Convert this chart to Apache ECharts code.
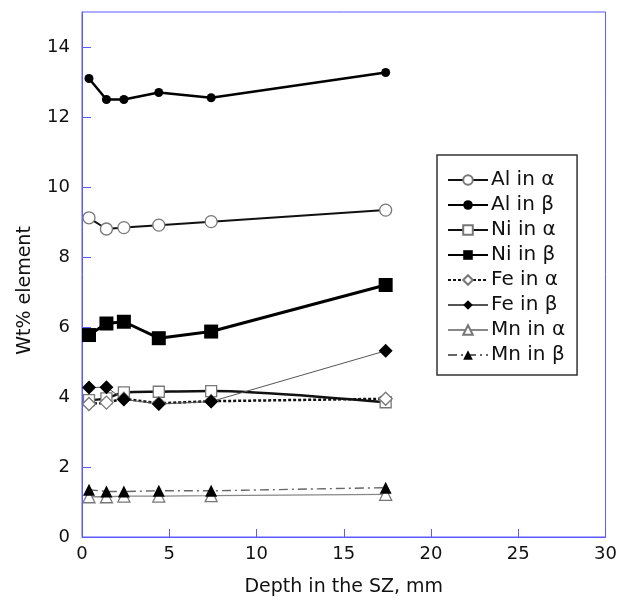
<!DOCTYPE html>
<html><head><meta charset="utf-8">
<script src="https://cdn.jsdelivr.net/npm/echarts@6/dist/echarts.min.js"></script>
<style>html,body{margin:0;padding:0;background:#fff}#c{width:620px;height:604px}</style>
</head><body><div id="c"></div>
<script>
var depth = [0.4, 1.4, 2.4, 4.4, 7.4, 17.4];
var alAlpha = [9.12, 8.8, 8.84, 8.91, 9.01, 9.34];
var alBeta  = [13.1, 12.5, 12.5, 12.7, 12.55, 13.27];
var niAlpha = [3.91, 3.96, 4.13, 4.15, 4.17, 3.85];
var niBeta  = [5.77, 6.1, 6.15, 5.68, 5.87, 7.2];
var feAlpha = [3.8, 3.84, 3.95, 3.82, 3.88, 3.95];
var feBeta  = [4.27, 4.28, 3.93, 3.8, 3.87, 5.32];
var mnAlpha = [1.15, 1.15, 1.17, 1.17, 1.18, 1.22];
var mnBeta  = [1.35, 1.3, 1.3, 1.32, 1.32, 1.41];
var names = ['Al in α','Al in β','Ni in α','Ni in β','Fe in α','Fe in β','Mn in α','Mn in β'];
var xTicks = [0,5,10,15,20,25,30];
var yTicks = [0,2,4,6,8,10,12,14];

function pts(ys){ return depth.map(function(d,i){ return [d, ys[i]]; }); }
var FONT = '"DejaVu Sans", sans-serif';
var AX = '#5a5aff';

var chart = echarts.init(document.getElementById('c'), null, {renderer:'canvas'});
function s(name, ys, sym, size, color, fill, line, extra){
  var o = {
    name: name, type: 'line', data: pts(ys), symbol: sym, symbolSize: size,
    showAllSymbol: true,
    itemStyle: {color: fill, borderColor: color, borderWidth: fill === '#fff' ? 1.3 : 0, opacity: 1},
    lineStyle: line, emphasis: {disabled: true}, animation: false
  };
  for (var k in extra) o[k] = extra[k];
  return o;
}
var series = [
  s(names[0], alAlpha, 'circle', 12, '#777', '#fff', {color:'#111', width:2}),
  s(names[1], alBeta, 'circle', 9, '#000', '#000', {color:'#000', width:2.5}),
  s(names[2], niAlpha, 'rect', 11, '#777', '#fff', {color:'#111', width:2.5}, {smooth:0.3}),
  s(names[3], niBeta, 'rect', 14, '#000', '#000', {color:'#000', width:3}),
  s(names[4], feAlpha, 'diamond', 13, '#777', '#fff', {color:'#111', width:2.5, type:[3,2]}),
  s(names[5], feBeta, 'diamond', 14, '#000', '#000', {color:'#555', width:1}),
  s(names[6], mnAlpha, 'triangle', 12, '#777', '#fff', {color:'#888', width:1.3}),
  s(names[7], mnBeta, 'triangle', 12, '#000', '#000', {color:'#666', width:1.4, type:[9,4,2,4]})
];
chart.setOption({
  backgroundColor: '#fff',
  animation: false,
  grid: {left: 82, right: 11, top: 12, bottom: 67, show: true, borderColor: AX, borderWidth: 1, backgroundColor: 'transparent'},
  legend: {
    data: names, orient: 'vertical', left: 437, top: 155,
    padding: [15, 12, 10, 10], itemGap: 5, itemWidth: 40, itemHeight: 12,
    borderColor: '#333', borderWidth: 1.5, backgroundColor: '#fff',
    textStyle: {fontFamily: FONT, fontSize: 20, color: '#111', lineHeight: 20, padding: [0,0,0,-2]}
  },
  xAxis: {
    type: 'value', min: 0, max: 30, interval: 5,
    name: 'Depth in the SZ, mm', nameLocation: 'middle', nameGap: 41,
    nameTextStyle: {fontFamily: FONT, fontSize: 19, color: '#111'},
    axisLine: {show: true, onZero: false, lineStyle: {color: AX, width: 1}},
    axisTick: {show: true, inside: true, length: 8, lineStyle: {color: AX}},
    axisLabel: {fontFamily: FONT, fontSize: 18, color: '#111', margin: 8,
      formatter: function(v){ return xTicks.indexOf(v) >= 0 ? String(v) : ''; }},
    splitLine: {show: false}
  },
  yAxis: {
    type: 'value', min: 0, max: 15, interval: 2,
    name: 'Wt% element', nameLocation: 'middle', nameGap: 47,
    nameTextStyle: {fontFamily: FONT, fontSize: 19, color: '#111', padding: [0, 32, 0, 0]},
    axisLine: {show: true, onZero: false, lineStyle: {color: AX, width: 1}},
    axisTick: {show: true, inside: true, length: 9, lineStyle: {color: AX}},
    axisLabel: {fontFamily: FONT, fontSize: 18, color: '#111', margin: 12, showMaxLabel: false,
      formatter: function(v){ return yTicks.indexOf(v) >= 0 ? String(v) : ''; }},
    splitLine: {show: false}
  },
  series: series
});
</script></body></html>
